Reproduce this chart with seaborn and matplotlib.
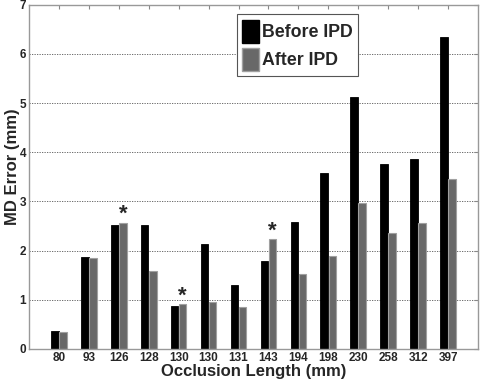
import numpy as np
import pandas as pd
import matplotlib
matplotlib.use("Agg")
import matplotlib.pyplot as plt
import seaborn as sns

sns.set_style("white")
plt.rcParams['font.family'] = ['Liberation Sans', 'DejaVu Sans']
plt.rcParams['font.weight'] = 'bold'

# Data
lengths = ["80", "93", "126", "128", "130", "130", "131", "143", "194", "198", "230", "258", "312", "397"]
before_ipd = [0.37, 1.88, 2.53, 2.53, 0.88, 2.14, 1.31, 1.78, 2.58, 3.57, 5.12, 3.76, 3.87, 6.35]
after_ipd = [0.35, 1.85, 2.57, 1.58, 0.91, 0.95, 0.86, 2.24, 1.53, 1.90, 2.97, 2.36, 2.57, 3.45]
significant = [False, False, True, False, True, False, False, True, False, False, False, False, False, False]

n = len(lengths)
df = pd.DataFrame({
    "idx": list(range(n)) * 2,
    "err": before_ipd + after_ipd,
    "group": ["Before IPD"] * n + ["After IPD"] * n,
})

fig = plt.figure(figsize=(4.8, 3.82), dpi=100)
ax = fig.add_axes([0.0604, 0.0864, 0.9354, 0.9013])

sns.barplot(data=df, x="idx", y="err", hue="group",
            hue_order=["Before IPD", "After IPD"],
            palette={"Before IPD": "black", "After IPD": "#686868"},
            width=0.54, gap=0.06, saturation=1, legend=False, ax=ax)

for bar in ax.containers[0]:
    bar.set_edgecolor("black")
    bar.set_linewidth(0.6)
for bar in ax.containers[1]:
    bar.set_edgecolor("#a0a0a0")
    bar.set_linewidth(0.8)

# asterisks above significant "after" bars
for bar, sig in zip(ax.containers[1], significant):
    if sig:
        ax.text(bar.get_x() + bar.get_width() / 2, bar.get_height() - 0.05, "*",
                ha="center", va="bottom", fontsize=16, fontweight="bold")

ax.set_xlim(-1, n)
ax.set_ylim(0, 7)
ax.set_xticks(range(n))
ax.set_xticklabels(lengths)
ax.set_yticks(range(8))
ax.tick_params(axis="both", labelsize=8.5, direction="in", length=3,
               color="#888888", top=True, right=True, pad=2)
for lab in ax.get_xticklabels() + ax.get_yticklabels():
    lab.set_fontweight("bold")
ax.yaxis.grid(True, linestyle=(0, (1.5, 1.5)), color="#555555", linewidth=0.6)
ax.set_axisbelow(True)
for sp in ax.spines.values():
    sp.set_color("#999999")
    sp.set_linewidth(1.0)

ax.set_xlabel("Occlusion Length (mm)", fontsize=12, fontweight="bold", labelpad=0)
ax.set_ylabel("MD Error (mm)", fontsize=12, fontweight="bold")
ax.yaxis.set_label_coords(-0.02, 0.53)

handles = [plt.Rectangle((0, 0), 1, 1, facecolor="black", edgecolor="black"),
           plt.Rectangle((0, 0), 1, 1, facecolor="#686868", edgecolor="#a0a0a0")]
leg = ax.legend(handles, ["Before IPD", "After IPD"], loc="upper left",
                bbox_to_anchor=(0.463, 0.972), fancybox=False, framealpha=1,
                prop={"size": 12.8, "weight": "bold"}, handlelength=0.95,
                handleheight=1.6, handletextpad=0.15, borderpad=0.3,
                labelspacing=0.3, borderaxespad=0)
leg.get_frame().set_edgecolor("#555555")
leg.get_frame().set_linewidth(0.8)

fig.savefig("out.png", dpi=100)
